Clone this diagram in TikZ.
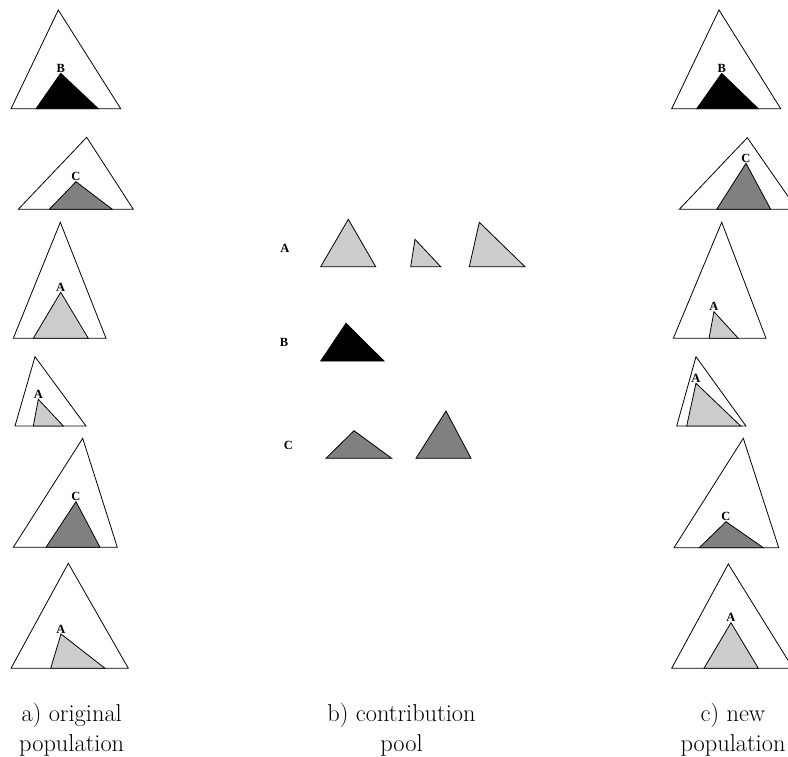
\documentclass[tikz,border=0pt]{standalone}
\usepackage{fontspec}
\newfontfamily\lblfont{Liberation Serif}
\usepackage{tikz}
\tikzset{
  outer/.style={draw=black, line width=0.8pt},
  partA/.style={draw=black, fill=gray!40, line width=0.8pt},
  partB/.style={draw=black, fill=black, line width=0.8pt},
  partC/.style={draw=black, fill=gray, line width=0.8pt},
  lbl/.style={font=\lblfont\bfseries\fontsize{12.5}{12.5}\selectfont, inner sep=0.6pt},
  capt/.style={align=center, inner sep=0pt, font=\fontsize{24.4}{30}\selectfont}
}

\begin{document}
\begin{tikzpicture}[x=1pt, y=-1pt]
  \useasboundingbox (0,0) rectangle (788,756);

  \draw[outer] (58.3,10) -- (11,108.7) -- (120.7,108.7) -- cycle;
  \draw[partB] (60.7,73.3) coordinate (lb1) -- (36,108.7) -- (98.3,108.7) -- cycle;
  \node[lbl, above] (l1) at (lb1) {B};
  \draw[outer] (86.7,137.3) -- (18.3,209.3) -- (133.3,209.3) -- cycle;
  \draw[partC] (76,181.7) coordinate (lc2) -- (49.3,209.3) -- (112.3,209.3) -- cycle;
  \node[lbl, above] (l2) at (lc2) {C};
  \draw[outer] (60.3,222.3) -- (13.3,338.3) -- (106,338.3) -- cycle;
  \draw[partA] (60.7,292.3) coordinate (la3) -- (33.3,338.3) -- (88.3,338.3) -- cycle;
  \node[lbl, above] (l3) at (la3) {A};
  \draw[outer] (35,356.7) -- (15,426) -- (86,426) -- cycle;
  \draw[partA] (38.3,399.3) coordinate (la4) -- (33.3,426) -- (63.3,426) -- cycle;
  \node[lbl, above] (l4) at (la4) {A};
  \draw[outer] (82.7,438.3) -- (13.3,547.3) -- (117.3,547.3) -- cycle;
  \draw[partC] (76,501.7) coordinate (lc5) -- (46,547.3) -- (100,547.3) -- cycle;
  \node[lbl, above] (l5) at (lc5) {C};
  \draw[outer] (68.3,563.3) -- (11,668.3) -- (128.3,668.3) -- cycle;
  \draw[partA] (61,634) coordinate (la6) -- (50.7,668.3) -- (105,668.3) -- cycle;
  \node[lbl, above] (l6) at (la6) {A};

  \node[lbl] (poolA) at (285,248.3) {A};
  \draw[partA] (348.3,219.3) -- (320.7,266.7) -- (375.7,266.7) -- cycle;
  \draw[partA] (415,239.3) -- (410.7,266.7) -- (440.7,266.7) -- cycle;
  \draw[partA] (479.3,222.3) -- (469.3,266.7) -- (525,266.7) -- cycle;
  \node[lbl] (poolB) at (284,342.7) {B};
  \draw[partB] (346,323.3) -- (320.7,361) -- (384,361) -- cycle;
  \node[lbl] (poolC) at (288.3,445.7) {C};
  \draw[partC] (354,430.7) -- (326,458.3) -- (391.7,458.3) -- cycle;
  \draw[partC] (446,411) -- (416,458.3) -- (471,458.3) -- cycle;

  \draw[outer] (719,10) -- (671.7,108.7) -- (780.7,108.7) -- cycle;
  \draw[partB] (721.7,73.3) coordinate (rb1) -- (696.7,108.7) -- (758.3,108.7) -- cycle;
  \node[lbl, above] (r1) at (rb1) {B};
  \draw[outer] (747.3,137.7) -- (679.3,209.3) -- (797,209.3) -- cycle;
  \draw[partC] (746,163.3) coordinate (rc2) -- (716.7,209.3) -- (770.7,209.3) -- cycle;
  \node[lbl, above] (r2) at (rc2) {C};
  \draw[outer] (721.7,222.3) -- (673.3,338.3) -- (766,338.3) -- cycle;
  \draw[partA] (714,311.7) coordinate (ra3) -- (709,338.3) -- (738.3,338.3) -- cycle;
  \node[lbl, above] (r3) at (ra3) {A};
  \draw[outer] (696,356.7) -- (676.7,426) -- (746,426) -- cycle;
  \draw[partA] (696,383.3) coordinate (ra4) -- (686.7,426) -- (740.7,426) -- cycle;
  \node[lbl, above] (r4) at (ra4) {A};
  \draw[outer] (743.3,438.3) -- (674,547.7) -- (778.7,547.7) -- cycle;
  \draw[partC] (726,521.7) coordinate (rc5) -- (699.3,547.7) -- (763.3,547.7) -- cycle;
  \node[lbl, above] (r5) at (rc5) {C};
  \draw[outer] (728.3,564) -- (671.7,668.3) -- (793,668.3) -- cycle;
  \draw[partA] (731,622.7) coordinate (ra6) -- (704,668.3) -- (758.3,668.3) -- cycle;
  \node[lbl, above] (r6) at (ra6) {A};

  \node[capt] (captA) at (71.7,730) {a) original\\population};
  \node[capt] (captB) at (401.5,730) {b) contribution\\pool};
  \node[capt] (captC) at (733,730) {c) new\\population};
\end{tikzpicture}
\end{document}
